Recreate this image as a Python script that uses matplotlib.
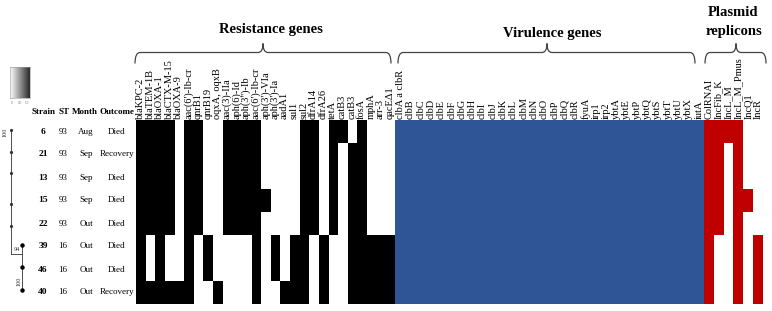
import matplotlib
matplotlib.use('Agg')
import matplotlib.pyplot as plt
import numpy as np
from matplotlib.colors import ListedColormap, LinearSegmentedColormap
from matplotlib.path import Path
from matplotlib.patches import PathPatch

plt.rcParams['font.family'] = ['Liberation Serif', 'DejaVu Serif']

# ---------------- data ----------------
strains = ['6', '21', '13', '15', '22', '39', '46', '40']
st_types = ['93', '93', '93', '93', '93', '16', '16', '16']
months = ['Aug', 'Sep', 'Sep', 'Sep', 'Out', 'Out', 'Out', 'Out']
outcomes = ['Died', 'Recovery', 'Died', 'Died', 'Died', 'Died', 'Died', 'Recovery']

resistance_genes = ['blaKPC-2', 'blaTEM-1B', 'blaOXA-1', 'blaCTX-M-15', 'blaOXA-9',
                    "aac(6')-Ib-cr", 'qnrB1', 'qnrB19', 'oqxA, oqxB', 'aac(3)-IIa',
                    'aph(6)-Id', "aph(3'')-Ib", "aac(6')-Ib-cr", "aph(3')-VIa",
                    "aph(3')-Ia", 'aadA1', 'sul1', 'sul2', 'dfrA14', 'dfrA26', 'tetA',
                    'catB3', 'catB3', 'fosA', 'mphA', 'arr-3', 'qacEΔ1']
resistance = [
    [1, 1, 1, 1, 0, 1, 1, 0, 0, 1, 1, 1, 1, 0, 0, 0, 0, 1, 1, 0, 1, 1, 0, 1, 0, 0, 0],  # 6
    [1, 1, 1, 1, 0, 1, 1, 0, 0, 1, 1, 1, 1, 0, 0, 0, 0, 1, 1, 0, 1, 0, 1, 1, 0, 0, 0],  # 21
    [1, 1, 1, 1, 0, 1, 1, 0, 0, 1, 1, 1, 1, 0, 0, 0, 0, 1, 1, 0, 1, 0, 1, 1, 0, 0, 0],  # 13
    [1, 1, 1, 1, 0, 1, 1, 0, 0, 1, 1, 1, 1, 1, 0, 0, 0, 1, 1, 0, 1, 0, 1, 1, 0, 0, 0],  # 15
    [1, 1, 1, 1, 0, 1, 1, 0, 0, 1, 1, 1, 1, 0, 0, 0, 0, 1, 1, 0, 1, 0, 1, 1, 0, 0, 0],  # 22
    [1, 0, 1, 0, 0, 1, 0, 1, 0, 0, 0, 0, 1, 0, 1, 0, 1, 1, 0, 1, 0, 0, 1, 1, 1, 1, 1],  # 39
    [1, 0, 1, 0, 0, 1, 0, 1, 0, 0, 0, 0, 1, 0, 1, 0, 1, 1, 0, 1, 0, 0, 1, 1, 1, 1, 1],  # 46
    [1, 1, 1, 1, 1, 1, 0, 0, 1, 0, 0, 0, 1, 0, 0, 1, 1, 1, 0, 1, 0, 0, 1, 1, 1, 1, 1],  # 40
]

virulence_genes = ['clbA a clbR', 'clbB', 'clbC', 'clbD', 'clbE', 'clbF', 'clbG', 'clbH',
                   'clbI', 'clbJ', 'clbK', 'clbL', 'clbM', 'clbN', 'clbO', 'clbP', 'clbQ',
                   'clbR', 'fyuA', 'irp1', 'irp2', 'ybtA', 'ybtE', 'ybtP', 'ybtQ', 'ybtS',
                   'ybtT', 'ybtU', 'ybtX', 'iutA']
virulence = [[1] * 30 for _ in range(8)]

plasmid_replicons = ['ColRNAI', 'IncFib_K', 'IncL_M', 'IncL_M_Pmus', 'IncQ1', 'IncR']
plasmids = [
    [1, 1, 1, 1, 0, 0],
    [1, 1, 0, 1, 0, 0],
    [1, 1, 0, 1, 0, 0],
    [1, 1, 0, 1, 1, 0],
    [1, 1, 0, 1, 0, 0],
    [1, 0, 0, 1, 0, 1],
    [1, 0, 0, 1, 0, 1],
    [1, 0, 0, 1, 0, 1],
]

# dendrogram (row positions)
dendro_main_dots = [0.45, 1.4, 2.3, 3.65, 4.6]
dendro_sub_dots = [5.43, 6.39, 7.39]
dendro_join = 5.83

# ---------------- figure ----------------
W, H = 772, 311
fig = plt.figure(figsize=(W / 100, H / 100), dpi=100)


def fax(x0, y0, x1, y1):
    return fig.add_axes([x0 / W, 1 - y1 / H, (x1 - x0) / W, (y1 - y0) / H])


GT, GB = 120, 304
groups = [
    ((135.7, 395), resistance, resistance_genes, '#000000'),
    ((395, 704), virulence, virulence_genes, '#2F5597'),
    ((704, 763), plasmids, plasmid_replicons, '#C00000'),
]
for (x0, x1), mat, labels, color in groups:
    ax = fax(x0, GT, x1, GB)
    ax.imshow(np.array(mat), cmap=ListedColormap(['white', color]), vmin=0, vmax=1,
              aspect='auto', interpolation='nearest')
    ax.xaxis.tick_top()
    ax.set_xticks(np.arange(len(labels)))
    ax.set_xticklabels(labels, rotation=90, fontsize=7.5)
    ax.set_yticks([])
    ax.tick_params(length=0, pad=1)
    for s in ax.spines.values():
        s.set_visible(False)

# left table + dendrogram
tab = fax(0, GT, 135, GB)
tab.set_xlim(0, 135)
tab.set_ylim(8, 0)
tab.axis('off')
hy = -0.35
for x, t in [(44, 'Strain'), (64, 'ST'), (85, 'Month'), (117, 'Outcome')]:
    tab.text(x, hy, t, ha='center', va='center', fontsize=6.5, fontweight='bold', clip_on=False)
for i in range(len(strains)):
    y = i + 0.5
    tab.text(43, y, strains[i], ha='center', va='center', fontsize=6.8, fontweight='bold')
    tab.text(63, y, st_types[i], ha='center', va='center', fontsize=6.5)
    tab.text(86, y, months[i], ha='center', va='center', fontsize=6.5)
    tab.text(117, y, outcomes[i], ha='center', va='center', fontsize=6.5)

lc = '#333333'
tab.plot([11, 11], [dendro_main_dots[0], dendro_join], color=lc, lw=0.6)
tab.plot([11, 22], [dendro_join, dendro_join], color=lc, lw=0.6)
tab.plot([22, 22], [dendro_sub_dots[0], dendro_sub_dots[-1]], color=lc, lw=0.6)
tab.plot([11] * len(dendro_main_dots), dendro_main_dots, 'o', color=lc, ms=1.3)
tab.plot([22] * len(dendro_sub_dots), dendro_sub_dots, 'o', color='black', ms=2.2)
tab.text(5, 0.55, '100', rotation=90, fontsize=4.5, ha='center', va='center', color='#333333')
tab.text(16.5, 5.62, '94', fontsize=4.5, ha='center', va='center', color='#333333')
tab.text(18.5, 7.0, '100', rotation=90, fontsize=4.5, ha='center', va='center', color='#333333')

# gradient scale box
cb = fax(10, 67, 30, 98)
grad = np.linspace(0, 1, 64)[None, :]
cb.imshow(grad, cmap=LinearSegmentedColormap.from_list('g', ['#ffffff', '#2a2a2a']),
          aspect='auto', extent=(0, 1, 0, 1))
cb.set_yticks([])
cb.set_xticks([0.1, 0.5, 0.85])
cb.set_xticklabels(['0', '0.5', '1.0'], fontsize=2.5, color='#555555')
cb.tick_params(length=1, width=0.3, pad=1, colors='#777777')
for s in cb.spines.values():
    s.set_linewidth(0.4)
    s.set_color('#999999')

# overlay: braces and headings
ov = fig.add_axes([0, 0, 1, 1])
ov.set_xlim(0, W)
ov.set_ylim(H, 0)
ov.axis('off')
ov.patch.set_alpha(0)


def brace(x0, x1, xm, yl=52.5, he=11, ht=9, r=5):
    verts = [(x0, yl + he), (x0, yl), (x0 + r, yl), (xm - r, yl), (xm, yl), (xm, yl - ht),
             (xm, yl), (xm + r, yl), (x1 - r, yl), (x1, yl), (x1, yl + he)]
    codes = [Path.MOVETO, Path.CURVE3, Path.CURVE3, Path.LINETO, Path.CURVE3, Path.CURVE3,
             Path.CURVE3, Path.CURVE3, Path.LINETO, Path.CURVE3, Path.CURVE3]
    ov.add_patch(PathPatch(Path(verts, codes), fill=False, lw=0.9, ec='#444444'))


brace(135, 391, 263)
brace(398, 695, 547)
brace(705, 766, 736)

ov.text(271, 30, 'Resistance genes', ha='center', va='center', fontsize=10.5, fontweight='bold')
ov.text(552, 33, 'Virulence genes', ha='center', va='center', fontsize=10.5, fontweight='bold')
ov.text(733, 13, 'Plasmid', ha='center', va='center', fontsize=10.5, fontweight='bold')
ov.text(734, 32, 'replicons', ha='center', va='center', fontsize=10.5, fontweight='bold')

fig.savefig('out.png', dpi=100)
